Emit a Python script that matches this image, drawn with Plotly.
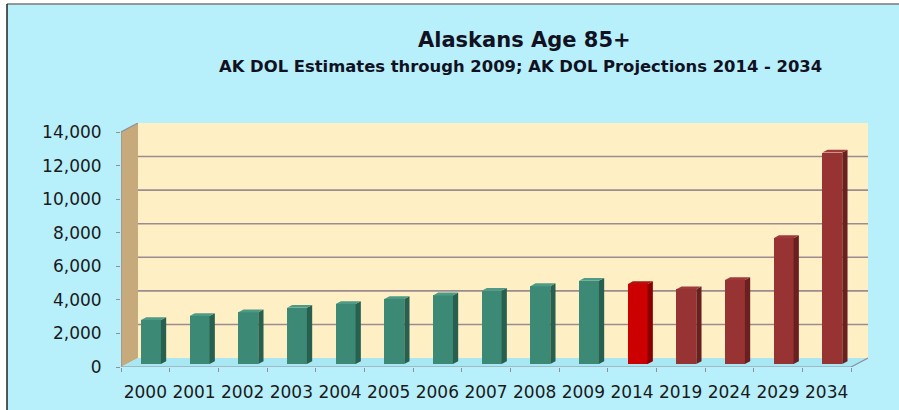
import plotly.graph_objects as go

# ---- data -------------------------------------------------------------
years = ["2000", "2001", "2002", "2003", "2004", "2005", "2006", "2007",
         "2008", "2009", "2014", "2019", "2024", "2029", "2034"]
population_85_plus = [2620, 2860, 3080, 3350, 3570, 3870, 4090, 4360,
                      4640, 4960, 4760, 4460, 5000, 7500, 12600]
series_kind = ["estimate"] * 10 + ["first_projection"] + ["projection"] * 4
y_ticks = [0, 2000, 4000, 6000, 8000, 10000, 12000, 14000]

# ---- styling ----------------------------------------------------------
FONT = "DejaVu Sans"
BG = "#b7effa"
WALL_BACK = "#fef0c4"
WALL_SIDE = "#c6aa7c"
FLOOR = "#a9e7f3"
GRID = "#9a8c90"
EDGE = "#8f8f98"
FACE_COLORS = {
    # kind: (front, side, top)
    "estimate": ("#3c8a76", "#27604f", "#4f9a86"),
    "first_projection": ("#cc0000", "#8a0000", "#b31010"),
    "projection": ("#973333", "#6a2020", "#a03a3a"),
}

# pseudo-3D geometry, in axis units
DEPTH_X = 0.349          # horizontal shift of the back wall (categories)
DEPTH_Y = 536            # vertical shift of the back wall (value units)
BAR_FRONT, BAR_BACK = 0.33, 0.64   # bar depth, as fraction of floor depth
BAR_W = 0.41
Y_TOP = y_ticks[-1]
n = len(years)
x_left, x_right = -0.5, n - 0.5

fig = go.Figure()

# front faces of the columns
cx = [i + BAR_FRONT * DEPTH_X for i in range(n)]
base = BAR_FRONT * DEPTH_Y
fig.add_trace(go.Bar(
    x=cx, y=population_85_plus, base=base, width=BAR_W,
    marker=dict(color=[FACE_COLORS[k][0] for k in series_kind], line=dict(width=0)),
    hoverinfo="skip", showlegend=False,
))

# side and top faces of the columns
dx = (BAR_BACK - BAR_FRONT) * DEPTH_X
dy = (BAR_BACK - BAR_FRONT) * DEPTH_Y
for kind, (front, side, top) in FACE_COLORS.items():
    sx, sy, tx, ty = [], [], [], []
    for c, v, k in zip(cx, population_85_plus, series_kind):
        if k != kind:
            continue
        xl, xr = c - BAR_W / 2, c + BAR_W / 2
        hi = base + v
        sx += [xr, xr, xr + dx, xr + dx, xr, None]
        sy += [base, hi, hi + dy, base + dy, base, None]
        tx += [xl, xr, xr + dx, xl + dx, xl, None]
        ty += [hi, hi, hi + dy, hi + dy, hi, None]
    for px, py, col in ((sx, sy, side), (tx, ty, top)):
        fig.add_trace(go.Scatter(
            x=px, y=py, mode="lines", fill="toself", fillcolor=col,
            line=dict(width=0, color=col), hoverinfo="skip", showlegend=False,
        ))

# ---- walls, floor and gridlines ---------------------------------------
shapes = []
L, R = 121, 868     # plot-area pixel edges, used for paper-space frame
T, B = 123, 367
def px_x(p):
    return (p - L) / (R - L)
def px_y(p):
    return (B - p) / (B - T)

# page background with a dark frame on the top and left
shapes.append(dict(type="rect", xref="paper", yref="paper", layer="below",
                   x0=px_x(7), x1=px_x(905), y0=px_y(4), y1=px_y(415),
                   fillcolor=BG, line=dict(width=0)))
shapes.append(dict(type="line", xref="paper", yref="paper", layer="below",
                   x0=px_x(7), x1=px_x(905), y0=px_y(4), y1=px_y(4),
                   line=dict(color="#7a7a7a", width=1.5)))
shapes.append(dict(type="line", xref="paper", yref="paper", layer="below",
                   x0=px_x(7), x1=px_x(7), y0=px_y(4), y1=px_y(415),
                   line=dict(color="#222222", width=1.5)))

bx0, bx1 = x_left + DEPTH_X, x_right + DEPTH_X
# back wall
shapes.append(dict(type="rect", xref="x", yref="y", layer="below",
                   x0=bx0, x1=bx1, y0=DEPTH_Y, y1=Y_TOP + DEPTH_Y,
                   fillcolor=WALL_BACK, line=dict(width=0)))
# gridlines on the back wall
for t in y_ticks[1:-1]:
    shapes.append(dict(type="line", xref="x", yref="y", layer="below",
                       x0=bx0, x1=bx1, y0=t + DEPTH_Y, y1=t + DEPTH_Y,
                       line=dict(color=GRID, width=1.6)))
# side wall
shapes.append(dict(type="path", xref="x", yref="y", layer="below",
                   path=f"M {x_left},0 L {x_left},{Y_TOP} L {bx0},{Y_TOP + DEPTH_Y} "
                        f"L {bx0},{DEPTH_Y} Z",
                   fillcolor=WALL_SIDE, line=dict(width=0)))
# floor
shapes.append(dict(type="path", xref="x", yref="y", layer="below",
                   path=f"M {x_left},0 L {x_right},0 L {bx1},{DEPTH_Y} "
                        f"L {bx0},{DEPTH_Y} Z",
                   fillcolor=FLOOR, line=dict(width=0)))
# axis edges
for (x0, y0, x1, y1) in [(x_left, 0, x_right, 0),
                         (x_right, 0, bx1, DEPTH_Y),
                         (x_left, 0, x_left, Y_TOP),
                         (x_left, Y_TOP, bx0, Y_TOP + DEPTH_Y)]:
    shapes.append(dict(type="line", xref="x", yref="y", layer="below",
                       x0=x0, y0=y0, x1=x1, y1=y1,
                       line=dict(color=EDGE, width=1.2)))

# ---- titles ------------------------------------------------------------
annotations = [
    dict(text="Alaskans Age 85+", xref="paper", yref="paper",
         x=px_x(524), y=px_y(40), xanchor="center", yanchor="middle",
         showarrow=False, font=dict(family=FONT, size=21, color="#111122", weight=700)),
    dict(text="AK DOL Estimates through 2009; AK DOL Projections 2014 - 2034",
         xref="paper", yref="paper", x=px_x(520), y=px_y(66),
         xanchor="center", yanchor="middle", showarrow=False,
         font=dict(family=FONT, size=16.4, color="#111122", weight=700)),
]

fig.update_layout(
    width=899, height=410, autosize=False,
    margin=dict(l=L, r=899 - R, t=T, b=410 - B, pad=0),
    paper_bgcolor="white", plot_bgcolor="rgba(0,0,0,0)",
    shapes=shapes, annotations=annotations, bargap=0,
    xaxis=dict(range=[x_left, bx1], tickmode="array",
               tickvals=list(range(n)), ticktext=years, ticks="",
               showgrid=False, zeroline=False, showline=False,
               automargin=False, ticklabelstandoff=13,
               tickfont=dict(family=FONT, size=17, color="#1a1a1a"),
               minor=dict(tickmode="array",
                          tickvals=[i - 0.5 for i in range(n + 1)],
                          ticks="outside", ticklen=4, tickcolor=EDGE,
                          tickwidth=1.2, showgrid=False)),
    yaxis=dict(range=[0, Y_TOP + DEPTH_Y], tickmode="array",
               tickvals=y_ticks, ticktext=[f"{v:,}" for v in y_ticks],
               ticks="outside", ticklen=4, tickcolor=EDGE, tickwidth=1.2,
               showgrid=False, zeroline=False, showline=False,
               automargin=False, ticklabelstandoff=11,
               tickfont=dict(family=FONT, size=17, color="#1a1a1a")),
)

fig.write_html("out.html")
